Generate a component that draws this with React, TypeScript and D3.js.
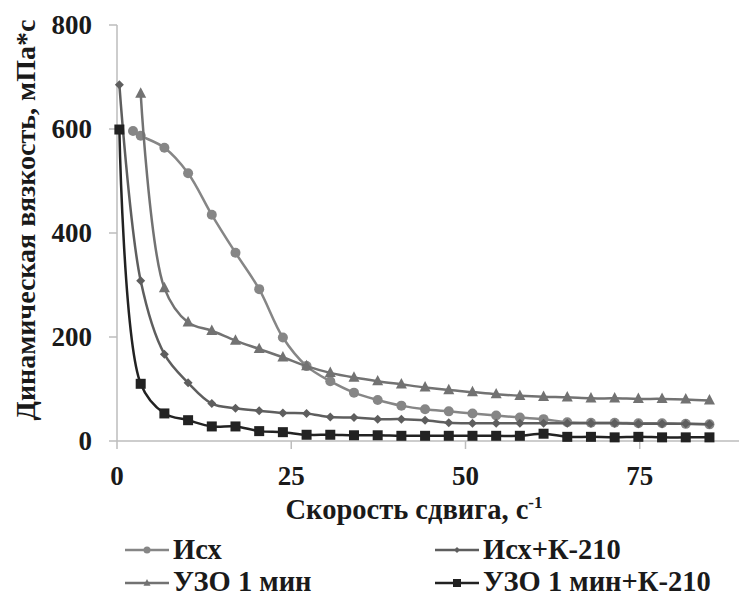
import React from "react";
import * as d3 from "d3";

const W = 739;
const H = 599;

const xTicks = [0, 25, 50, 75];
const yTicks = [0, 200, 400, 600, 800];

const xIsh = [2.3, 3.4, 6.8, 10.2, 13.6, 17, 20.4, 23.8, 27.2, 30.6, 34, 37.4, 40.8, 44.2, 47.6, 51, 54.4, 57.8, 61.2, 64.6, 68, 71.4, 74.8, 78.2, 81.6, 85];
const yIsh = [596, 587, 564, 515, 435, 362, 292, 199, 144, 115, 93, 79, 68, 61, 57, 53, 49, 45, 42, 36, 35, 35, 34, 34, 33, 32];

const xFull = [0.34, 3.4, 6.8, 10.2, 13.6, 17, 20.4, 23.8, 27.2, 30.6, 34, 37.4, 40.8, 44.2, 47.6, 51, 54.4, 57.8, 61.2, 64.6, 68, 71.4, 74.8, 78.2, 81.6, 85];
const yIshK = [685, 308, 167, 112, 72, 63, 58, 54, 53, 46, 45, 42, 42, 40, 35, 34, 34, 34, 34, 34, 34, 34, 33, 33, 33, 32];
const yUzoK = [599, 110, 53, 40, 28, 28, 19, 17, 12, 12, 11, 11, 10, 10, 10, 10, 10, 10, 14, 8, 8, 7, 8, 7, 7, 7];

const xUzo = [3.4, 6.8, 10.2, 13.6, 17, 20.4, 23.8, 27.2, 30.6, 34, 37.4, 40.8, 44.2, 47.6, 51, 54.4, 57.8, 61.2, 64.6, 68, 71.4, 74.8, 78.2, 81.6, 85];
const yUzo = [668, 294, 228, 212, 193, 177, 161, 144, 131, 122, 115, 109, 103, 98, 94, 90, 87, 85, 84, 82, 82, 81, 81, 80, 78];

const seriesNames = ["Исх", "Исх+К-210", "УЗО 1 мин", "УЗО 1 мин+К-210"];

type Shape = "circle" | "diamond" | "triangle" | "square";

const series: { name: string; xs: number[]; ys: number[]; color: string; shape: Shape }[] = [
  { name: seriesNames[0], xs: xIsh, ys: yIsh, color: "#868686", shape: "circle" },
  { name: seriesNames[1], xs: xFull, ys: yIshK, color: "#5e5e5e", shape: "diamond" },
  { name: seriesNames[2], xs: xUzo, ys: yUzo, color: "#727272", shape: "triangle" },
  { name: seriesNames[3], xs: xFull, ys: yUzoK, color: "#222222", shape: "square" },
];

const FONT = "'Liberation Serif', 'Times New Roman', serif";

function marker(shape: Shape, cx: number, cy: number, s: number, color: string, key: string) {
  if (shape === "circle") return <circle key={key} cx={cx} cy={cy} r={s} fill={color} />;
  if (shape === "square")
    return <rect key={key} x={cx - s} y={cy - s} width={2 * s} height={2 * s} fill={color} />;
  if (shape === "diamond")
    return (
      <path key={key} d={`M${cx},${cy - s}L${cx + s},${cy}L${cx},${cy + s}L${cx - s},${cy}Z`} fill={color} />
    );
  return (
    <path
      key={key}
      d={`M${cx},${cy - s * 1.15}L${cx + s},${cy + s * 0.75}L${cx - s},${cy + s * 0.75}Z`}
      fill={color}
    />
  );
}

const markerSize: Record<Shape, number> = { circle: 5, diamond: 4.5, triangle: 5.5, square: 5 };
const legendSize: Record<Shape, number> = { circle: 3.5, diamond: 3, triangle: 3.5, square: 4 };

export default function App() {
  const x = d3.scaleLinear().domain([0, 100]).range([117, 814]);
  const y = d3.scaleLinear().domain([0, 800]).range([441, 25]);

  const line = d3
    .line<[number, number]>()
    .x((d) => x(d[0]))
    .y((d) => y(d[1]))
    .curve(d3.curveCatmullRom.alpha(0.5));

  const axisColor = "#bdbdbd";

  const legendPos = [
    { lx: 125, ty: 559, sy: 550 },
    { lx: 435, ty: 559, sy: 550 },
    { lx: 125, ty: 591, sy: 583 },
    { lx: 435, ty: 591, sy: 583 },
  ];

  return (
    <svg
      width={W}
      height={H}
      style={{ position: "absolute", left: 0, top: 0, background: "#fff" }}
      fontFamily={FONT}
      fontWeight="bold"
    >
      <rect width={W} height={H} fill="#fff" />
      {/* axes */}
      <line x1={x(0)} x2={x(0)} y1={y(800)} y2={y(0)} stroke={axisColor} strokeWidth={1.5} />
      <line x1={x(0)} x2={W} y1={y(0)} y2={y(0)} stroke={axisColor} strokeWidth={1.5} />
      {yTicks.map((t) => (
        <g key={"yt" + t}>
          <line x1={x(0) - 8} x2={x(0)} y1={y(t)} y2={y(t)} stroke={axisColor} strokeWidth={1.5} />
          <text x={92} y={y(t)} dy="0.35em" textAnchor="end" fontSize={27} fill="#1a1a1a">
            {t}
          </text>
        </g>
      ))}
      {xTicks.map((t) => (
        <g key={"xt" + t}>
          <line x1={x(t)} x2={x(t)} y1={y(0)} y2={y(0) + 8} stroke={axisColor} strokeWidth={1.5} />
          <text x={x(t)} y={485} textAnchor="middle" fontSize={27} fill="#1a1a1a">
            {t}
          </text>
        </g>
      ))}
      {/* axis titles */}
      <text x={414} y={519} textAnchor="middle" fontSize={28.5} fill="#1a1a1a">
        Скорость сдвига, с
        <tspan fontSize={17} dy={-11}>
          -1
        </tspan>
      </text>
      <text
        transform={`translate(35,220) rotate(-90)`}
        textAnchor="middle"
        fontSize={28}
        fill="#1a1a1a"
      >
        Динамическая вязкость, мПа*с
      </text>
      {/* series */}
      {series.map((s, i) => {
        const pts: [number, number][] = s.xs.map((xv, j) => [xv, s.ys[j]]);
        return (
          <g key={"s" + i}>
            <path d={line(pts) || ""} fill="none" stroke={s.color} strokeWidth={2.5} />
            {pts.map((p, j) => marker(s.shape, x(p[0]), y(p[1]), markerSize[s.shape], s.color, "m" + i + "-" + j))}
          </g>
        );
      })}
      {/* legend */}
      {series.map((s, i) => {
        const p = legendPos[i];
        return (
          <g key={"lg" + i}>
            <line x1={p.lx} x2={p.lx + 44} y1={p.sy} y2={p.sy} stroke={s.color} strokeWidth={2.5} />
            {marker(s.shape, p.lx + 22, p.sy, legendSize[s.shape], s.color, "lm" + i)}
            <text x={p.lx + 48} y={p.ty} fontSize={28.5} fill="#1a1a1a">
              {s.name}
            </text>
          </g>
        );
      })}
    </svg>
  );
}
